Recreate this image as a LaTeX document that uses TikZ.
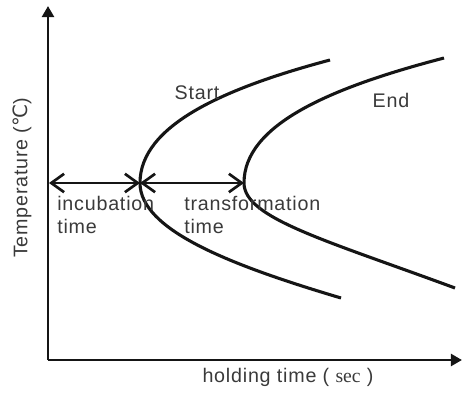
\documentclass[tikz,border=0pt]{standalone}
\usepackage{fontspec}
\setmainfont{Liberation Sans}
\setsansfont[LetterSpace=4]{Liberation Sans}
\newfontfamily\serifpart{Liberation Serif}
\newfontfamily\degfont{DejaVu Sans}
\usepackage{xcolor}
\definecolor{curveink}{HTML}{151515}
\definecolor{labelink}{HTML}{3A3A3A}
\usepackage{tikz}
\usetikzlibrary{positioning,arrows.meta,calc}

\begin{document}
\begin{tikzpicture}[
  x=0.25mm, y=-0.25mm,
  font=\sffamily\fontsize{14}{16.5}\selectfont,
  axis/.style={draw=curveink, line width=2.1pt, -{Triangle[length=2.8mm, width=3mm]}},
  curve/.style={draw=curveink, line width=2.2pt},
  span/.style={draw=curveink, line width=1.9pt, {Straight Barb[length=3.2mm, width=4.6mm]}-{Straight Barb[length=3.2mm, width=4.6mm]}},
  lab/.style={text=labelink, inner sep=0pt, align=left},
]
  \useasboundingbox (0,0) rectangle (462,398);

  \coordinate (origin) at (48,360);
  \coordinate (ytip) at (48,6);
  \coordinate (xtip) at (462,360);
  \coordinate (axisat) at (49,183);
  \coordinate (svert) at (140,183);
  \coordinate (evert) at (244,183);
  \coordinate (stop) at (330,60);
  \coordinate (sbot) at (341,298);
  \coordinate (etop) at (444,58);
  \coordinate (ebot) at (455,288);

  \draw[axis] (origin) -- (ytip);
  \draw[axis] (origin) -- (xtip);

  \draw[curve] (stop) .. controls (225,88) and (140,125) .. (svert)
               .. controls (140,230) and (230,265) .. (sbot);
  \draw[curve] (etop) .. controls (329,88) and (244,125) .. (evert)
               .. controls (244,218) and (325,240) .. (ebot);

  \draw[span] (axisat) -- (svert);
  \draw[span] (svert) -- (evert);

  \node[lab] (startlab) at (197,93) {Start};
  \node[lab] (endlab) at (391,100) {End};
  \node[lab, anchor=north west] (incub) at (57,196) {incubation\\time};
  \node[lab, anchor=north west] (transf) at (184,196) {transformation\\time};
  \node[lab, rotate=90] (templab) at (22,178) {Temperature ({\degfont ℃})};
  \node[lab] (timelab) at (288,377) {holding time ( {\serifpart sec} )};
\end{tikzpicture}
\end{document}
